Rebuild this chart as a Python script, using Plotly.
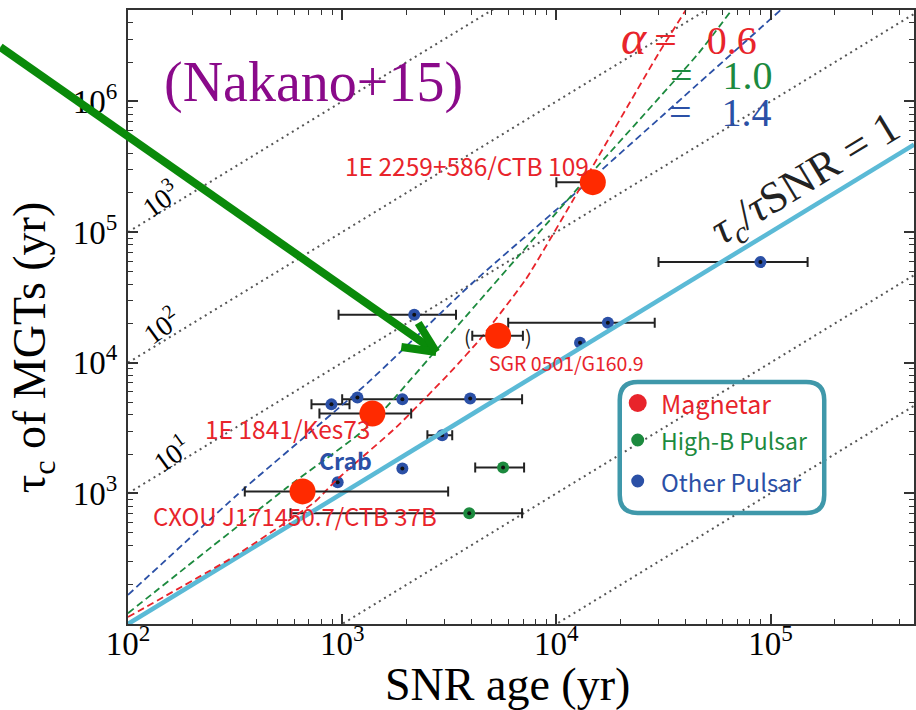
import plotly.graph_objects as go

# ---------------- data ----------------
magnetar_names = ["1E 2259+586/CTB 109", "SGR 0501/G160.9", "1E 1841/Kes73", "CXOU J171450.7/CTB 37B"]
magnetar_age = [14800, 5350, 1384, 653]
magnetar_age_lo = [10000, 4050, 783, 351]
magnetar_age_hi = [16000, 6980, 2100, 3125]
magnetar_tau = [241000, 16100, 4090, 1035]

highb_age = [5640, 3920]
highb_age_lo = [4180, 574]
highb_age_hi = [7070, 6920]
highb_tau = [1580, 703]

other_age = [2170, 17400, 12900, 89700, 891, 1178, 1910, 3960, 953, 1910, 2930]
other_age_lo = [962, 5960, 12900, 30000, 719, 1178, 1000, 3960, 953, 1910, 2500]
other_age_hi = [3400, 28800, 12900, 149000, 1082, 1178, 6920, 3960, 953, 1910, 3265]
other_tau = [23300, 20200, 14200, 58900, 4800, 5420, 5250, 5330, 1214, 1550, 2780]

# model curves (alpha = 0.6, 1.0, 1.4)
alpha06_age = [100, 315, 743, 940, 1791, 2472, 3266, 4365, 7211, 12735, 30060, 40180]
alpha06_tau = [113, 331, 857, 1265, 3214, 5458, 8770, 14890, 43650, 209400, 2339000, 4989000]
alpha10_age = [100, 556, 1312, 2748, 12735, 46130, 65770]
alpha10_tau = [121, 1117, 3214, 12470, 220800, 2339000, 4989000]
alpha14_age = [100, 351, 1312, 4046, 12735, 33420, 111200]
alpha14_tau = [167, 1099, 6982, 40640, 209400, 857000, 4989000]

# iso tau_c / t_SNR reference lines
iso_ratios = [1e3, 1e2, 1e1, 1e-1, 1e-2]
iso_labels = ["10<sup>3</sup>", "10<sup>2</sup>", "10<sup>1</sup>"]

x_ticks = [1e2, 1e3, 1e4, 1e5]
x_ticktext = ["10<sup>2</sup>", "10<sup>3</sup>", "10<sup>4</sup>", "10<sup>5</sup>"]
y_ticks = [1e3, 1e4, 1e5, 1e6]
y_ticktext = ["10<sup>3</sup>", "10<sup>4</sup>", "10<sup>5</sup>", "10<sup>6</sup>"]

# ---------------- layout geometry ----------------
W, H = 916, 710
L, R, T, B = 128, 0, 10, 86
XR = [2.0, 5.67]
YR = [2.0, 6.70]
x_end = 10 ** XR[1]


def px(xp):
    return (xp - L) / (W - L - R)


def py(yp):
    return (H - B - yp) / (H - T - B)


RED = "#e8242b"
MAG = "#ff2a00"
GREEN = "#1c8a3e"
BLUE = "#2b50a6"
CYAN = "#5bbad6"
SERIF = "Liberation Serif"
SANS = "Noto Sans CJK JP"

fig = go.Figure()

# dotted iso-ratio lines
for r in iso_ratios:
    fig.add_trace(go.Scatter(x=[100, x_end], y=[r * 100, r * x_end], mode="lines",
                             line=dict(color="#555555", width=2, dash="2px,4px"),
                             hoverinfo="skip", showlegend=False))


def err(v, lo, hi):
    return [h - a for a, h in zip(v, hi)], [a - l for a, l in zip(v, lo)]


# other pulsars
p, m = err(other_age, other_age_lo, other_age_hi)
fig.add_trace(go.Scatter(x=other_age, y=other_tau, mode="markers",
                         marker=dict(color=BLUE, size=12),
                         error_x=dict(type="data", symmetric=False, array=p, arrayminus=m,
                                      color="#222222", thickness=2, width=5),
                         showlegend=False))
fig.add_trace(go.Scatter(x=other_age, y=other_tau, mode="markers",
                         marker=dict(color="#111111", size=4), showlegend=False))
# high-B pulsars
p, m = err(highb_age, highb_age_lo, highb_age_hi)
fig.add_trace(go.Scatter(x=highb_age, y=highb_tau, mode="markers",
                         marker=dict(color=GREEN, size=12),
                         error_x=dict(type="data", symmetric=False, array=p, arrayminus=m,
                                      color="#222222", thickness=2, width=5),
                         showlegend=False))
fig.add_trace(go.Scatter(x=highb_age, y=highb_tau, mode="markers",
                         marker=dict(color="#111111", size=4), showlegend=False))

# tau_c = t_SNR line
fig.add_trace(go.Scatter(x=[100, x_end], y=[100, x_end], mode="lines",
                         line=dict(color=CYAN, width=4.5), showlegend=False))

# model curves
for xs, ys, c in [(alpha14_age, alpha14_tau, BLUE), (alpha10_age, alpha10_tau, GREEN),
                  (alpha06_age, alpha06_tau, RED)]:
    fig.add_trace(go.Scatter(x=xs, y=ys, mode="lines",
                             line=dict(color=c, width=1.8, dash="7px,4px", shape="spline", smoothing=0.5),
                             showlegend=False))

# magnetars
p, m = err(magnetar_age, magnetar_age_lo, magnetar_age_hi)
fig.add_trace(go.Scatter(x=magnetar_age, y=magnetar_tau, mode="markers",
                         marker=dict(color=MAG, size=26),
                         error_x=dict(type="data", symmetric=False, array=p, arrayminus=m,
                                      color="#222222", thickness=2, width=5),
                         showlegend=False))

axis_common = dict(type="log", showgrid=False, zeroline=False, showline=True,
                   linecolor="#333333", linewidth=2, mirror="allticks",
                   ticks="inside", ticklen=10, tickwidth=1.5, tickcolor="#333333",
                   tickfont=dict(family=SERIF, size=33, color="black"),
                   tickmode="array")

minor_x = [d * 10 ** e for e in range(2, 6) for d in range(2, 10)]
minor_y = [d * 10 ** e for e in range(2, 7) for d in range(2, 10)]

fig.update_layout(
    width=W, height=H, margin=dict(l=L, r=R, t=T, b=B),
    paper_bgcolor="white", plot_bgcolor="white",
    xaxis=dict(range=XR, tickvals=x_ticks, ticktext=x_ticktext, ticklabelstandoff=-11,
               minor=dict(tickmode="array", tickvals=minor_x, ticks="inside", ticklen=5,
                          tickwidth=1.2, tickcolor="#333333"),
               **axis_common),
    yaxis=dict(range=YR, tickvals=y_ticks, ticktext=y_ticktext, ticklabelstandoff=2,
               minor=dict(tickmode="array", tickvals=minor_y, ticks="inside", ticklen=5,
                          tickwidth=1.2, tickcolor="#333333"),
               **axis_common),
)

ann = []


def text(xp, yp, s, size, color, family=SANS, angle=0, xanchor="center", bg=None):
    d = dict(x=px(xp), y=py(yp), xref="paper", yref="paper", text=s, showarrow=False,
             xanchor=xanchor, yanchor="middle", textangle=angle,
             font=dict(family=family, size=size, color=color))
    if bg:
        d["bgcolor"] = bg
    ann.append(d)


# axis titles
text(508, 684, "SNR age (yr)", 46, "black", SERIF)
text(33, 348, "τ<sub>c</sub> of MGTs (yr)", 46, "black", SERIF, angle=-90)

# source labels
text(468, 165, magnetar_names[0], 24.5, RED)
text(568, 362, magnetar_names[1], 19.5, RED)
text(288, 428, magnetar_names[2], 24.5, RED)
text(295, 515, magnetar_names[3], 24, RED)
text(346, 460, "<b>Crab</b>", 23, BLUE)
text(468, 336, "(", 20, "#222222")
text(530, 336, ")", 20, "#222222")

# iso-ratio labels
text(160, 198, iso_labels[0], 28, "black", SERIF, angle=-36)
text(161, 325, iso_labels[1], 28, "black", SERIF, angle=-36)
text(171, 453, iso_labels[2], 28, "black", SERIF, angle=-36)

# alpha labels
text(690, 37, "<span style='font-size:48px'><i>α</i></span>\u2009=\u2002 0.6", 40, RED, SERIF)
text(723, 75, "=\u2002 1.0", 40, GREEN, SERIF)
text(722, 113, "=\u2002 1.4", 40, BLUE, SERIF)

# ratio label
text(808, 180, "<i>τ</i><sub><i>c</i></sub>/<i>τ</i>SNR = 1", 44, "#222222", SERIF, angle=-31.3)

# reference
text(314, 82, "(Nakano+15)", 56, "#8a0a8a", SERIF)

# legend texts
text(660, 403, "Magnetar", 25, RED, xanchor="left")
text(660, 440, "High-B Pulsar", 23, GREEN, xanchor="left")
text(660, 481, "Other Pulsar", 24, BLUE, xanchor="left")

fig.update_layout(annotations=ann)

shapes = []
# legend box with rounded corners
x0, x1, y0, y1, rr = 621, 826, 382, 513, 18
path = (f"M {px(x0 + rr)} {py(y0)} L {px(x1 - rr)} {py(y0)} Q {px(x1)} {py(y0)} {px(x1)} {py(y0 + rr)} "
        f"L {px(x1)} {py(y1 - rr)} Q {px(x1)} {py(y1)} {px(x1 - rr)} {py(y1)} "
        f"L {px(x0 + rr)} {py(y1)} Q {px(x0)} {py(y1)} {px(x0)} {py(y1 - rr)} "
        f"L {px(x0)} {py(y0 + rr)} Q {px(x0)} {py(y0)} {px(x0 + rr)} {py(y0)} Z")
shapes.append(dict(type="path", xref="paper", yref="paper", path=path,
                   line=dict(color="#3f98aa", width=4.5)))


def dot(cx, cy, d, color):
    shapes.append(dict(type="circle", xref="paper", yref="paper",
                       x0=px(cx - d / 2), x1=px(cx + d / 2), y0=py(cy + d / 2), y1=py(cy - d / 2),
                       fillcolor=color, line=dict(width=0)))


dot(639, 403, 18, RED)
dot(639, 440, 13, GREEN)
dot(639, 481, 13, BLUE)

# green arrow
AG = "#0a8a0a"
for (a, b, c, d) in [(0, 47, 437, 352), (437, 352, 402, 347), (437, 352, 419, 323)]:
    shapes.append(dict(type="line", xref="paper", yref="paper",
                       x0=px(a), y0=py(b), x1=px(c), y1=py(d),
                       line=dict(color=AG, width=8)))

fig.update_layout(shapes=shapes)

fig.write_html("out.html")
